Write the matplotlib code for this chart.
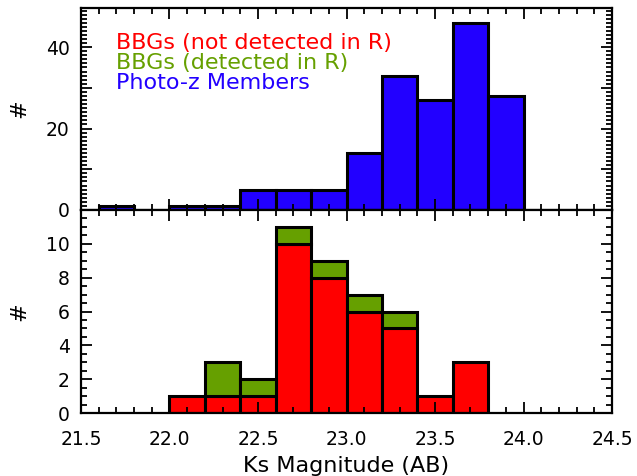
import matplotlib
matplotlib.use('Agg')
import matplotlib.pyplot as plt
from matplotlib.ticker import MultipleLocator, FixedLocator
import numpy as np

# histogram bins in Ks magnitude (left edges, width 0.2)
bin_left = [21.6, 21.8, 22.0, 22.2, 22.4, 22.6, 22.8, 23.0, 23.2, 23.4,
    23.6, 23.8]
bin_width = 0.2
photoz_members = [1, 0, 1, 1, 5, 5, 5, 14, 33, 27, 46, 28]
bbg_not_detected = [0, 0, 1, 1, 1, 10, 8, 6, 5, 1, 3, 0]
bbg_detected = [0, 0, 0, 2, 1, 1, 1, 1, 1, 0, 0, 0]

legend_labels = ['BBGs (not detected in R)', 'BBGs (detected in R)',
    'Photo-z Members']
top_yticks = [0, 20, 40]
bottom_yticks = [0, 2, 4, 6, 8, 10]
xticks = [21.5, 22.0, 22.5, 23.0, 23.5, 24.0, 24.5]

red = '#ff0000'
green = '#66a000'
blue = '#2200ff'

plt.rcParams['font.family'] = ['DejaVu Sans']


def style_axis(ax, ymajor, yminor):
    '''IDL like axes: ticks inward on all four sides'''
    ax.set_xlim(21.5, 24.5)
    ax.xaxis.set_major_locator(FixedLocator(xticks))
    ax.xaxis.set_minor_locator(MultipleLocator(0.1))
    ax.yaxis.set_major_locator(MultipleLocator(ymajor))
    ax.yaxis.set_minor_locator(MultipleLocator(yminor))
    ax.tick_params(which='both', direction='in', top=True, right=True,
        width=1.3, labelsize=13.5)
    ax.tick_params(which='major', length=8)
    ax.tick_params(which='minor', length=4)
    ax.tick_params(axis='x', pad=12)
    ax.tick_params(axis='y', pad=8)
    for spine in ax.spines.values():
        spine.set_linewidth(1.6)


def draw_bars(ax, values, bottom=None, color='b'):
    '''draw histogram bars, skipping empty bins'''
    if bottom is None: bottom = [0] * len(values)
    for left, v, b in zip(bin_left, values, bottom):
        if v == 0: continue
        ax.bar(left, v, width=bin_width, bottom=b, align='edge',
            color=color, edgecolor='black', linewidth=2.2)


fig = plt.figure(figsize=(6.37, 4.76), dpi=100)
ax1 = fig.add_axes([0.127, 0.559, 0.834, 0.424])
ax2 = fig.add_axes([0.127, 0.132, 0.834, 0.427])

draw_bars(ax1, photoz_members, color=blue)
style_axis(ax1, 10, 1)
ax1.set_ylim(0, 49.6)
ax1.set_yticks(top_yticks + [10, 30])
ax1.set_yticklabels(['0', '20', '40', '', ''])
ax1.set_xticklabels([])
ax1.set_ylabel('#', fontsize=16, labelpad=12)

for i, (label, color) in enumerate(zip(legend_labels, [red, green, blue])):
    ax1.text(0.066, 0.827 - i * 0.099, label, color=color, fontsize=16,
        transform=ax1.transAxes, va='center', ha='left')

draw_bars(ax2, bbg_not_detected, color=red)
draw_bars(ax2, bbg_detected, bottom=bbg_not_detected, color=green)
style_axis(ax2, 2, 0.5)
ax2.set_ylim(0, 12)
ax2.set_yticks(bottom_yticks + [12])
ax2.set_yticklabels([str(t) for t in bottom_yticks] + [''])
ax2.set_xticklabels(['%.1f' % t for t in xticks])
ax2.set_xlabel('Ks Magnitude (AB)', fontsize=16, labelpad=5)
ax2.set_ylabel('#', fontsize=16, labelpad=12)

fig.savefig('out.png', dpi=100)
